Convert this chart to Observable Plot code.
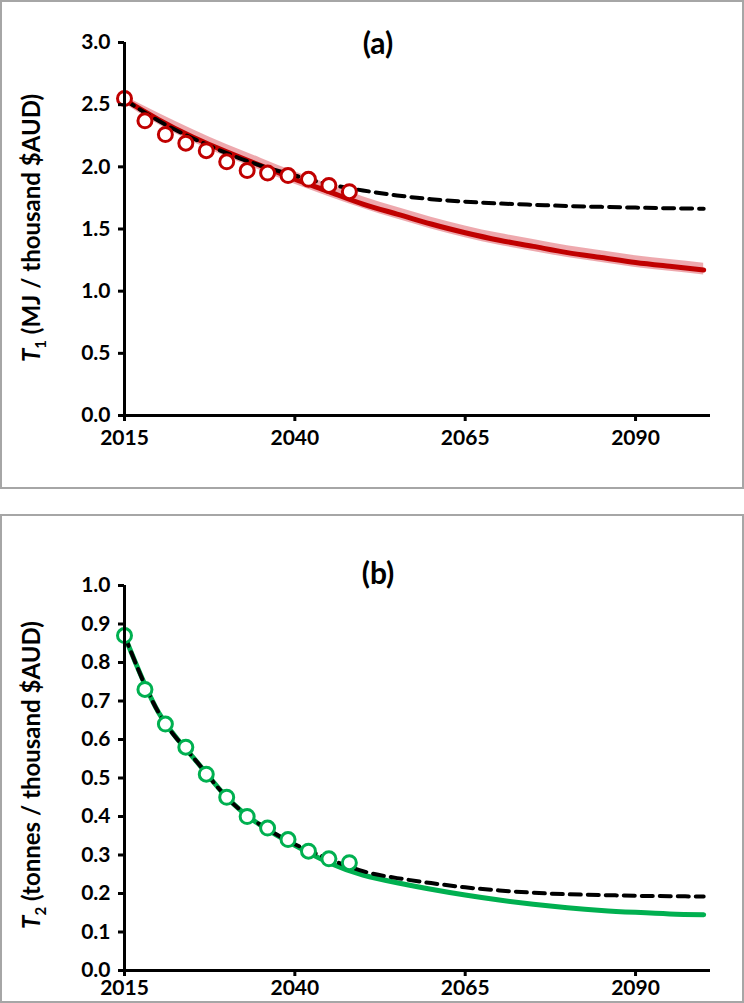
<!DOCTYPE html>
<html><head><meta charset="utf-8">
<script src="https://cdn.jsdelivr.net/npm/d3@7"></script>
<script src="https://cdn.jsdelivr.net/npm/@observablehq/plot@0.6"></script>
<style>
html,body{margin:0;padding:0;background:#fff;}
.panel{position:absolute;left:0;width:744px;height:489px;box-sizing:border-box;border:2px solid #a6a6a6;background:#fff;}
#pa{top:0}
#pb{top:514px}
.panel svg{display:block}
</style></head><body>
<div id="pa" class="panel"></div>
<div id="pb" class="panel"></div>
<script>
// ---- data ----
const years = [2015,2020,2025,2030,2035,2040,2045,2050,2055,2060,2065,2070,2075,2080,2085,2090,2095,2100];
const obsYears = [2015,2018,2021,2024,2027,2030,2033,2036,2039,2042,2045,2048];

const t1Obs = [2.55,2.37,2.26,2.19,2.13,2.04,1.97,1.95,1.93,1.90,1.85,1.80];
const t1Model = [2.54,2.38,2.24,2.12,2.01,1.90,1.80,1.70,1.62,1.54,1.47,1.41,1.36,1.31,1.27,1.23,1.20,1.17];
const t1BandHigh = [2.57,2.43,2.30,2.18,2.07,1.96,1.86,1.76,1.675,1.595,1.525,1.465,1.415,1.365,1.325,1.285,1.255,1.225];
const t1BandLow = [2.51,2.34,2.20,2.08,1.97,1.86,1.76,1.665,1.58,1.50,1.43,1.37,1.32,1.27,1.23,1.19,1.16,1.13];
const t1Dashed = [2.54,2.37,2.23,2.11,2.01,1.93,1.86,1.81,1.77,1.74,1.72,1.705,1.695,1.685,1.678,1.672,1.667,1.663];

const t2Obs = [0.87,0.73,0.64,0.58,0.51,0.45,0.40,0.37,0.34,0.31,0.29,0.28];
const t2Model = [0.87,0.67,0.555,0.45,0.377,0.325,0.28,0.248,0.228,0.211,0.196,0.183,0.172,0.163,0.156,0.151,0.147,0.145];
const t2Dashed = [0.87,0.67,0.555,0.45,0.378,0.328,0.29,0.258,0.240,0.227,0.216,0.208,0.202,0.198,0.196,0.194,0.193,0.192];

const xTicks = [2015,2040,2065,2090];
const y1Ticks = [0,0.5,1.0,1.5,2.0,2.5,3.0];
const y2Ticks = [0,0.1,0.2,0.3,0.4,0.5,0.6,0.7,0.8,0.9,1.0];

const titleA = "(a)", titleB = "(b)";
const labelA = ["T","1"," (MJ / thousand $AUD)"];
const labelB = ["T","2"," (tonnes / thousand $AUD)"];

// ---- helpers ----
const FONT = "Lato, 'DejaVu Sans', sans-serif";
const series = (xs, ys) => xs.map((x,i)=>({x, y: ys[i]}));
const band = (xs, lo, hi) => xs.map((x,i)=>({x, lo: lo[i], hi: hi[i]}));

function panel({yMax, yTicks, model, dashed, obs, color, bandLo, bandHi, marginTop, marginBottom, xPad, title, titleY, label, labelY}) {
  const marks = [];
  if (bandLo) marks.push(Plot.areaY(band(years, bandLo, bandHi), {x:"x", y1:"lo", y2:"hi", fill:"#e36f78", fillOpacity:0.6, curve:"natural"}));
  marks.push(Plot.line(series(years, model), {x:"x", y:"y", stroke:color, strokeWidth:5, curve:"natural"}));
  marks.push(Plot.line(series(years, dashed), {x:"x", y:"y", stroke:"#000", strokeWidth:4, strokeDasharray:"11,7", curve:"natural"}));
  marks.push(Plot.dot(series(obsYears, obs), {x:"x", y:"y", r:7, stroke:color, strokeWidth:3, fill:"white"}));
  marks.push(Plot.ruleX([2015], {y1:0, y2:yMax, stroke:"#000", strokeWidth:3}));
  marks.push(Plot.ruleY([0], {x1:2015, x2:2101, stroke:"#000", strokeWidth:3}));
  marks.push(Plot.axisY(yTicks, {tickSize:6, tickPadding:8, strokeWidth:3, tickFormat:d3.format(".1f"), label:null}));
  marks.push(Plot.axisX(xTicks, {tickSize:6, tickPadding:xPad, strokeWidth:3, tickFormat:d=>String(d), label:null}));
  const svg = Plot.plot({
    width:740, height:485,
    marginLeft:122, marginRight:32, marginTop, marginBottom,
    x:{domain:[2015,2101]},
    y:{domain:[0,yMax]},
    style:{fontSize:"21px", fontWeight:"bold", fontFamily:FONT, color:"#000", background:"white"},
    marks
  });
  const s = d3.select(svg);
  s.append("text").attr("x",376).attr("y",titleY).attr("text-anchor","middle")
    .attr("font-size",30).attr("font-weight","bold").attr("font-family",FONT).attr("fill","#000").text(title);
  const t = s.append("text").attr("transform",`translate(38,${labelY}) rotate(-90)`).attr("text-anchor","middle")
    .attr("font-size",24).attr("font-weight","bold").attr("font-family",FONT).attr("fill","#000");
  t.append("tspan").attr("font-style","italic").text(label[0]);
  t.append("tspan").attr("font-size",15).attr("dy",6).text(label[1]);
  t.append("tspan").attr("dy",-6).text(label[2]);
  return svg;
}

document.getElementById("pa").append(panel({
  yMax:3, yTicks:y1Ticks, model:t1Model, dashed:t1Dashed, obs:t1Obs, color:"#C00000",
  bandLo:t1BandLow, bandHi:t1BandHigh, marginTop:40, marginBottom:72, xPad:9,
  title:titleA, titleY:52, label:labelA, labelY:226
}));
document.getElementById("pb").append(panel({
  yMax:1, yTicks:y2Ticks, model:t2Model, dashed:t2Dashed, obs:t2Obs, color:"#00B050",
  marginTop:69, marginBottom:31, xPad:4,
  title:titleB, titleY:68, label:labelB, labelY:259
}));
</script></body></html>
